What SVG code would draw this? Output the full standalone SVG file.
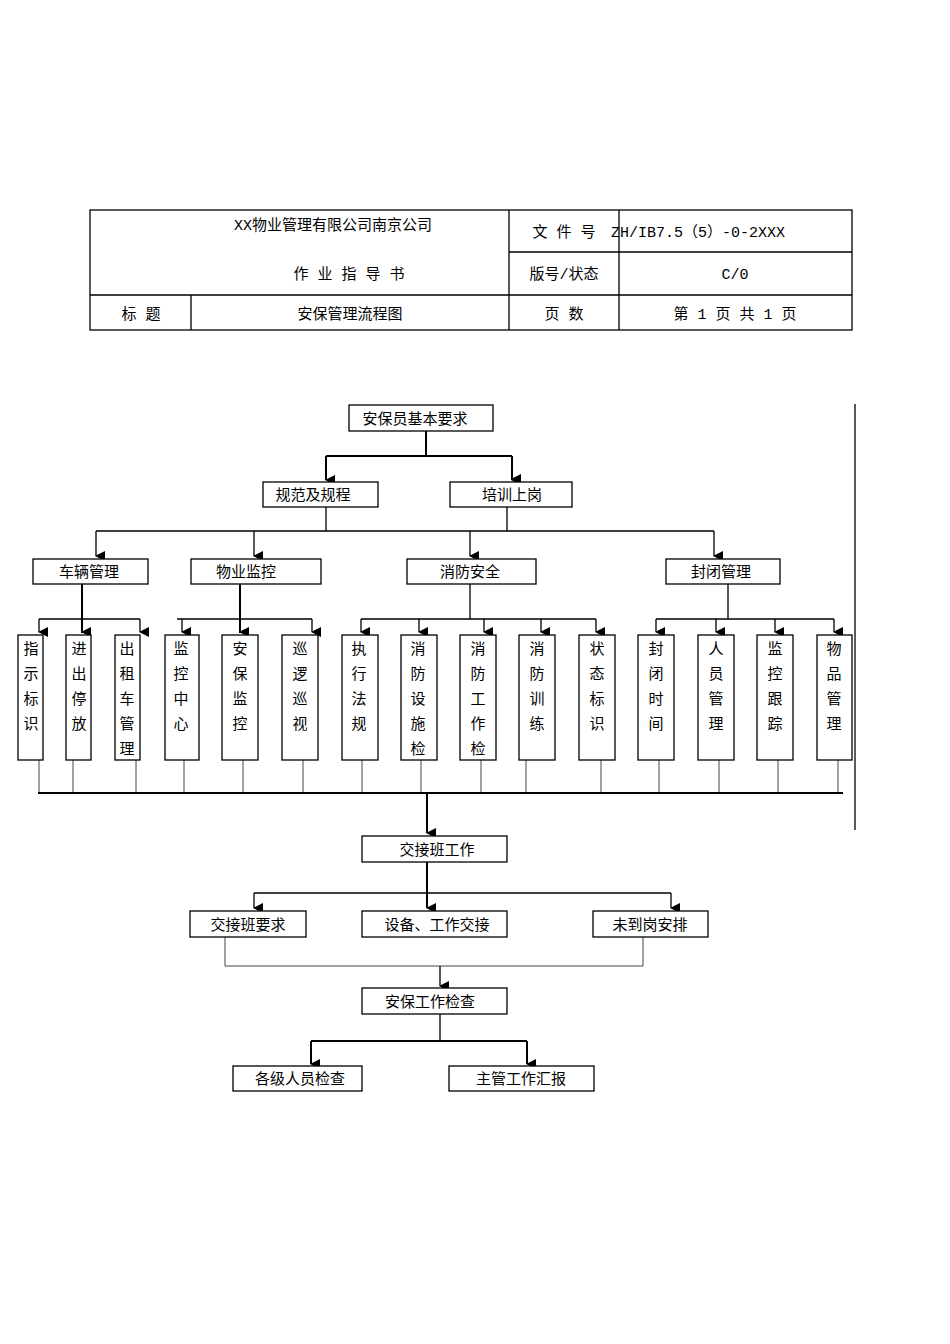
<svg xmlns="http://www.w3.org/2000/svg" width="950" height="1344" viewBox="0 0 950 1344">
<style>
.b{fill:#fff;stroke:#000;stroke-width:1.3}
.t{font-family:"Noto Sans CJK SC","Liberation Serif",serif;font-size:15px;text-anchor:middle;fill:#000}
.h{font-family:"Liberation Mono","Noto Sans CJK SC",monospace;font-size:15px;text-anchor:middle;fill:#000}
.l{stroke:#000;stroke-width:1.3;fill:none}
.k{stroke:#000;stroke-width:2;fill:none}
.g{stroke:#444;stroke-width:1;fill:none}
</style>
<defs><marker id="a" markerWidth="10" markerHeight="10" refX="5" refY="9" orient="auto" markerUnits="userSpaceOnUse"><path d="M0,0 L10,0 L5,10 Z" fill="#000"/></marker></defs>
<rect width="950" height="1344" fill="#fff"/>
<g id="header">
<rect x="90" y="210" width="762" height="120" class="b"/>
<path class="l" d="M509 210V330M619 210V330M191 295V330M90 295H852M509 252H852"/>
<text x="333" y="230" class="h">XX物业管理有限公司南京公司</text>
<text x="349" y="279" class="h">作 业 指 导 书</text>
<text x="141" y="319" class="h">标    题</text>
<text x="350" y="319" class="h">安保管理流程图</text>
<text x="564" y="237" class="h">文 件 号</text>
<text x="564" y="279" class="h">版号/状态</text>
<text x="564" y="319" class="h">页    数</text>
<text x="698" y="237" class="h">ZH/IB7.5（5）-0-2XXX</text>
<text x="735" y="279" class="h">C/0</text>
<text x="735" y="319" class="h">第 1 页  共 1 页</text>
</g>
<g id="connectors">
<path class="l" d="M855 404V830"/>
<path class="k" d="M426 431V456H512M326 456H426M326 456V479M512 456V479" marker-end="url(#a)"/>
<path class="k" d="M326 456V480" marker-end="url(#a)"/><path class="k" d="M512 456V480" marker-end="url(#a)"/>
<path class="l" d="M326 507V531M507 507V531M96 531H714"/>
<path class="l" d="M96 531V556" marker-end="url(#a)"/><path class="l" d="M254 531V556" marker-end="url(#a)"/><path class="l" d="M470 531V556" marker-end="url(#a)"/><path class="l" d="M714 531V556" marker-end="url(#a)"/>
<path class="k" d="M82 584V633"/><path class="k" d="M240 584V633"/>
<path class="l" d="M470 584V619M728 584V619M39 619H140M177 619H312M361 619H596M656 619H834"/>
<g class="l">
<path d="M39 619V632" marker-end="url(#a)"/><path d="M82 619V632" marker-end="url(#a)"/><path d="M140 619V632" marker-end="url(#a)"/>
<path d="M182 619V632" marker-end="url(#a)"/><path d="M240 619V632" marker-end="url(#a)"/><path d="M312 619V632" marker-end="url(#a)"/>
<path d="M361 619V632" marker-end="url(#a)"/><path d="M419 619V632" marker-end="url(#a)"/><path d="M484 619V632" marker-end="url(#a)"/><path d="M541 619V632" marker-end="url(#a)"/><path d="M596 619V632" marker-end="url(#a)"/>
<path d="M656 619V632" marker-end="url(#a)"/><path d="M716 619V632" marker-end="url(#a)"/><path d="M775 619V632" marker-end="url(#a)"/><path d="M834 619V632" marker-end="url(#a)"/>
</g>
<path class="g" d="M39 755V793M73 755V793M136 755V793M184 755V793M243 755V793M303 755V793M362 755V793M421 755V793M481 755V793M526 755V793M601 755V793M659 755V793M719 755V793M778 755V793M838 755V793"/>
<path class="k" d="M38 793H843"/>
<path class="k" d="M427 793V833" marker-end="url(#a)"/>
<path class="k" d="M427 862V908" marker-end="url(#a)"/>
<path class="l" d="M254 893H671"/>
<path class="l" d="M254 893V908" marker-end="url(#a)"/><path class="l" d="M671 893V908" marker-end="url(#a)"/>
<path class="g" d="M225 937V966H643V937"/>
<path class="l" d="M440 966V986" marker-end="url(#a)"/>
<path class="l" d="M440 1014V1041"/>
<path class="k" d="M311 1041H527"/>
<path class="k" d="M311 1041V1064" marker-end="url(#a)"/><path class="k" d="M527 1041V1064" marker-end="url(#a)"/>
</g>
<g id="n1"><rect x="349" y="405" width="144" height="26" class="b"/><text x="415" y="424" class="t">安保员基本要求</text></g>
<g id="n2"><rect x="263" y="482" width="115" height="25" class="b"/><text x="313" y="500" class="t">规范及规程</text></g>
<g id="n3"><rect x="450" y="482" width="122" height="25" class="b"/><text x="512" y="500" class="t">培训上岗</text></g>
<g id="n4"><rect x="33" y="559" width="115" height="25" class="b"/><text x="89" y="577" class="t">车辆管理</text></g>
<g id="n5"><rect x="191" y="559" width="130" height="25" class="b"/><text x="246" y="577" class="t">物业监控</text></g>
<g id="n6"><rect x="407" y="559" width="129" height="25" class="b"/><text x="470" y="577" class="t">消防安全</text></g>
<g id="n7"><rect x="666" y="559" width="114" height="25" class="b"/><text x="721" y="577" class="t">封闭管理</text></g>
<g id="vboxes">
<g id="v1"><rect x="18" y="635" width="25" height="125" class="b"/><text x="31" y="654" class="t">指</text><text x="31" y="679" class="t">示</text><text x="31" y="704" class="t">标</text><text x="31" y="729" class="t">识</text></g>
<g id="v2"><rect x="66" y="635" width="25" height="125" class="b"/><text x="79" y="654" class="t">进</text><text x="79" y="679" class="t">出</text><text x="79" y="704" class="t">停</text><text x="79" y="729" class="t">放</text></g>
<g id="v3"><rect x="115" y="635" width="25" height="125" class="b"/><text x="127" y="654" class="t">出</text><text x="127" y="679" class="t">租</text><text x="127" y="704" class="t">车</text><text x="127" y="729" class="t">管</text><text x="127" y="754" class="t">理</text></g>
<g id="v4"><rect x="165" y="635" width="34" height="125" class="b"/><text x="181" y="654" class="t">监</text><text x="181" y="679" class="t">控</text><text x="181" y="704" class="t">中</text><text x="181" y="729" class="t">心</text></g>
<g id="v5"><rect x="222" y="635" width="36" height="125" class="b"/><text x="240" y="654" class="t">安</text><text x="240" y="679" class="t">保</text><text x="240" y="704" class="t">监</text><text x="240" y="729" class="t">控</text></g>
<g id="v6"><rect x="282" y="635" width="36" height="125" class="b"/><text x="300" y="654" class="t">巡</text><text x="300" y="679" class="t">逻</text><text x="300" y="704" class="t">巡</text><text x="300" y="729" class="t">视</text></g>
<g id="v7"><rect x="342" y="635" width="36" height="125" class="b"/><text x="359" y="654" class="t">执</text><text x="359" y="679" class="t">行</text><text x="359" y="704" class="t">法</text><text x="359" y="729" class="t">规</text></g>
<g id="v8"><rect x="401" y="635" width="36" height="125" class="b"/><text x="418" y="654" class="t">消</text><text x="418" y="679" class="t">防</text><text x="418" y="704" class="t">设</text><text x="418" y="729" class="t">施</text><text x="418" y="754" class="t">检</text></g>
<g id="v9"><rect x="460" y="635" width="36" height="125" class="b"/><text x="478" y="654" class="t">消</text><text x="478" y="679" class="t">防</text><text x="478" y="704" class="t">工</text><text x="478" y="729" class="t">作</text><text x="478" y="754" class="t">检</text></g>
<g id="v10"><rect x="519" y="635" width="36" height="125" class="b"/><text x="537" y="654" class="t">消</text><text x="537" y="679" class="t">防</text><text x="537" y="704" class="t">训</text><text x="537" y="729" class="t">练</text></g>
<g id="v11"><rect x="579" y="635" width="36" height="125" class="b"/><text x="597" y="654" class="t">状</text><text x="597" y="679" class="t">态</text><text x="597" y="704" class="t">标</text><text x="597" y="729" class="t">识</text></g>
<g id="v12"><rect x="638" y="635" width="36" height="125" class="b"/><text x="656" y="654" class="t">封</text><text x="656" y="679" class="t">闭</text><text x="656" y="704" class="t">时</text><text x="656" y="729" class="t">间</text></g>
<g id="v13"><rect x="698" y="635" width="36" height="125" class="b"/><text x="716" y="654" class="t">人</text><text x="716" y="679" class="t">员</text><text x="716" y="704" class="t">管</text><text x="716" y="729" class="t">理</text></g>
<g id="v14"><rect x="757" y="635" width="36" height="125" class="b"/><text x="775" y="654" class="t">监</text><text x="775" y="679" class="t">控</text><text x="775" y="704" class="t">跟</text><text x="775" y="729" class="t">踪</text></g>
<g id="v15"><rect x="817" y="635" width="35" height="125" class="b"/><text x="834" y="654" class="t">物</text><text x="834" y="679" class="t">品</text><text x="834" y="704" class="t">管</text><text x="834" y="729" class="t">理</text></g>
</g>
<g id="n8"><rect x="362" y="836" width="145" height="26" class="b"/><text x="437" y="855" class="t">交接班工作</text></g>
<g id="n9"><rect x="190" y="911" width="116" height="26" class="b"/><text x="248" y="930" class="t">交接班要求</text></g>
<g id="n10"><rect x="362" y="911" width="145" height="26" class="b"/><text x="437" y="930" class="t">设备、工作交接</text></g>
<g id="n11"><rect x="593" y="911" width="115" height="26" class="b"/><text x="650" y="930" class="t">未到岗安排</text></g>
<g id="n12"><rect x="362" y="988" width="145" height="26" class="b"/><text x="430" y="1007" class="t">安保工作检查</text></g>
<g id="n13"><rect x="233" y="1066" width="129" height="25" class="b"/><text x="300" y="1084" class="t">各级人员检查</text></g>
<g id="n14"><rect x="449" y="1066" width="145" height="25" class="b"/><text x="521" y="1084" class="t">主管工作汇报</text></g>
</svg>
